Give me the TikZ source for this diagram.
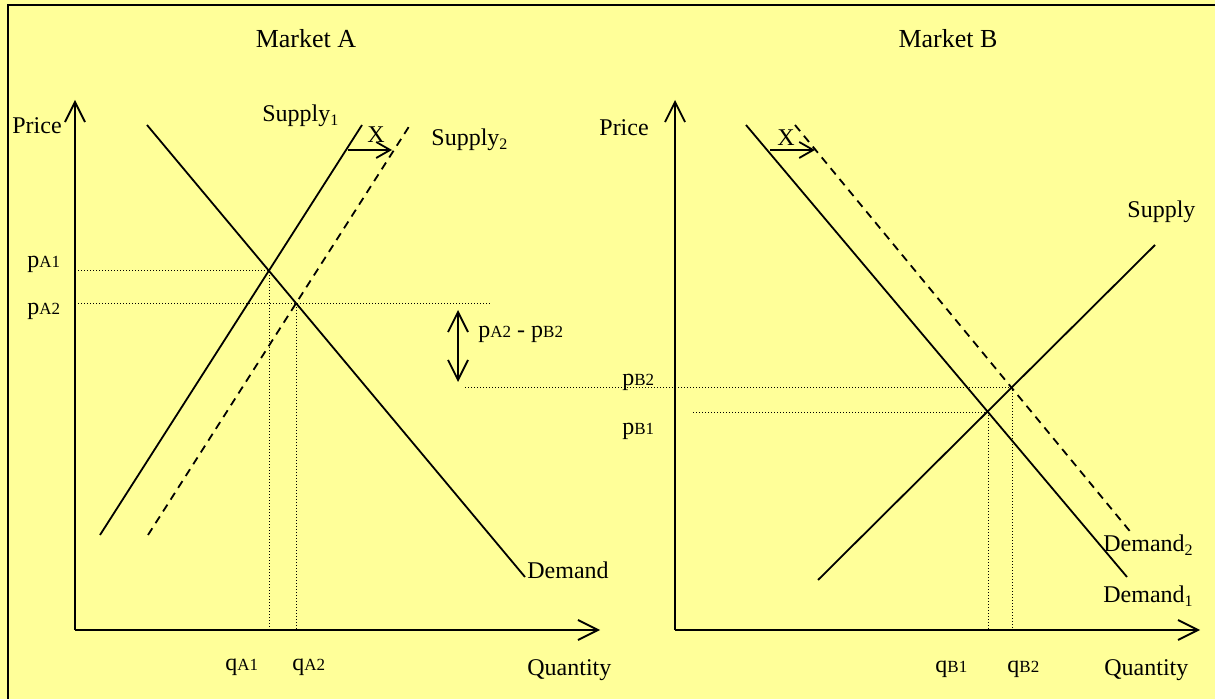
\documentclass[tikz,border=0pt]{standalone}
\usepackage{fontspec}
\setmainfont{Liberation Serif}
\usetikzlibrary{arrows.meta}

\definecolor{paper}{RGB}{255,255,153}
\newcommand{\lowsub}[2]{#1{\fontsize{8.5}{10}\selectfont #2}}

\begin{document}
\begin{tikzpicture}[x=0.5pt, y=-0.5pt, font=\fontsize{12}{14}\selectfont,
    lbl/.style={anchor=base west, inner sep=0pt},
    title/.style={anchor=base, inner sep=0pt, font=\fontsize{13}{15}\selectfont},
    axis/.style={line width=0.9pt, -{Straight Barb[length=10pt,width=10pt]}},
    curve/.style={line width=0.9pt},
    moved/.style={line width=0.9pt, dash pattern=on 4pt off 3pt},
    guide/.style={line width=0.5pt, dash pattern=on 0.5pt off 1pt},
    movearrow/.style={line width=0.9pt, -{Straight Barb[length=7pt,width=8pt]}}]

    \fill[paper] (0,0) rectangle (1215,699);
    \useasboundingbox (0,0) rectangle (1215,699);
    \draw[line width=1.25pt] (8,699) -- (8,5) -- (1215,5);

    % Market A
    \node[title] (titleA) at (306,48) {Market A};
    \draw[axis] (75,630) -- (75,100);
    \draw[axis] (75,630) -- (600,630);
    \node[lbl] (priceA) at (12,134) {Price};
    \node[lbl] (qtyA) at (527,675) {Quantity};

    \draw[curve] (147,125) -- (525,577);
    \node[lbl] (demA) at (527,579) {Demand};
    \draw[curve] (100,535) -- (362,125);
    \node[lbl] (supA1) at (262,122) {Supply\textsubscript{1}};
    \draw[moved] (148,535) -- (410,125);
    \node[lbl] (supA2) at (431,146) {Supply\textsubscript{2}};
    \draw[movearrow] (348,150) -- (392,150);
    \node[lbl] (xA) at (367,143) {X};

    \draw[guide] (78,271) -- (269,271) -- (269,630);
    \draw[guide] (78,304) -- (492,304);
    \draw[guide] (296,304) -- (296,630);
    \node[lbl] (pA1) at (27,268) {\lowsub{p}{A1}};
    \node[lbl] (pA2) at (27,315) {\lowsub{p}{A2}};
    \node[lbl] (qA1) at (225,670) {\lowsub{q}{A1}};
    \node[lbl] (qA2) at (292,670) {\lowsub{q}{A2}};

    % price gap
    \draw[line width=0.9pt, {Straight Barb[length=10pt,width=10pt]}-{Straight Barb[length=10pt,width=10pt]}] (458,310) -- (458,382);
    \node[lbl] (gap) at (478,338) {\lowsub{p}{A2} - \lowsub{p}{B2}};

    % Market B
    \node[title] (titleB) at (948,48) {Market B};
    \draw[axis] (675,630) -- (675,100);
    \draw[axis] (675,630) -- (1200,630);
    \node[lbl] (priceB) at (599,136) {Price};
    \node[lbl] (qtyB) at (1104,675) {Quantity};

    \draw[curve] (746,125) -- (1127,577);
    \node[lbl] (demB1) at (1103,603) {Demand\textsubscript{1}};
    \draw[moved] (795,125) -- (1133,535);
    \node[lbl] (demB2) at (1103,552) {Demand\textsubscript{2}};
    \draw[curve] (818,580) -- (1155,245);
    \node[lbl] (supB) at (1127,218) {Supply};
    \draw[movearrow] (770,150) -- (815,150);
    \node[lbl] (xB) at (777,146) {X};

    \draw[guide] (465,388) -- (1012,388) -- (1012,630);
    \draw[guide] (693,413) -- (988,413) -- (988,630);
    \node[lbl] (pB2) at (622,386) {\lowsub{p}{B2}};
    \node[lbl] (pB1) at (622,435) {\lowsub{p}{B1}};
    \node[lbl] (qB1) at (935,672) {\lowsub{q}{B1}};
    \node[lbl] (qB2) at (1007,672) {\lowsub{q}{B2}};
\end{tikzpicture}
\end{document}
